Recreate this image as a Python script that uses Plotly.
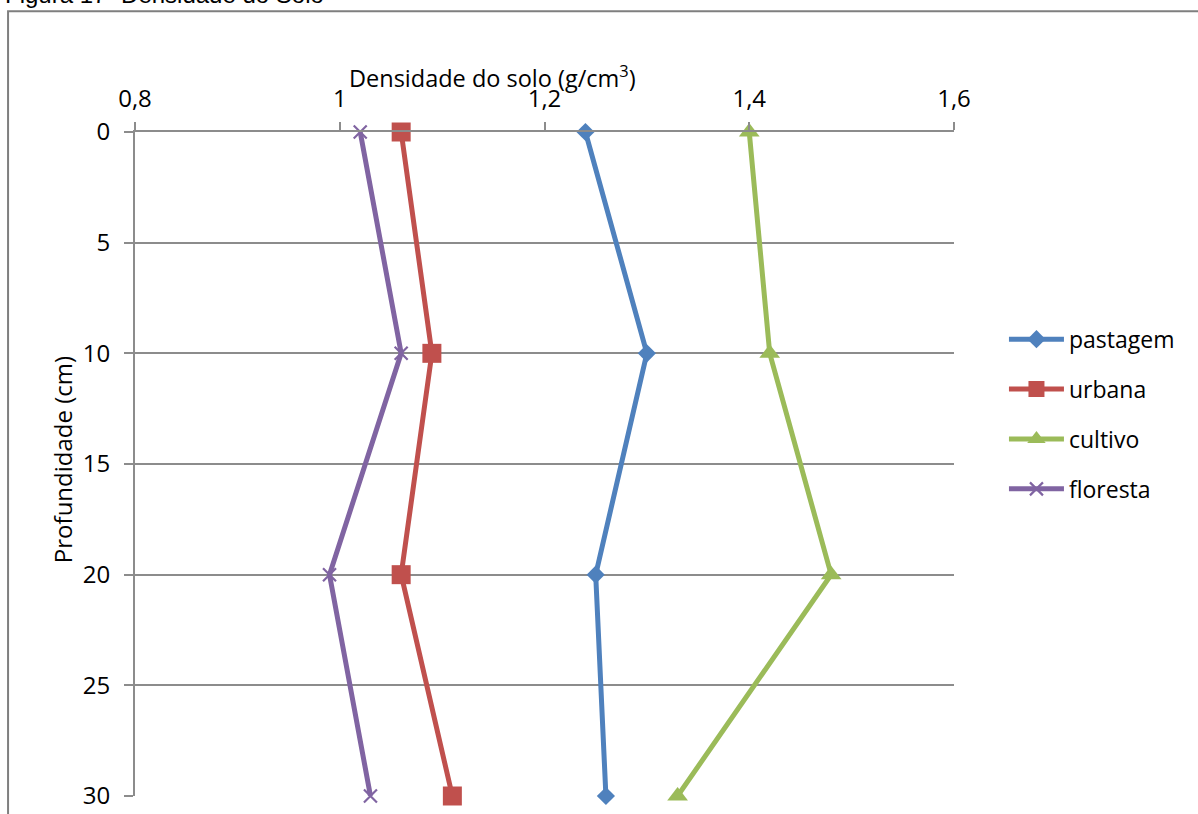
import plotly.graph_objects as go

# Profundidade (cm) e densidade do solo (g/cm³) por uso do solo
profundidade = [0, 10, 20, 30]
pastagem = [1.24, 1.30, 1.25, 1.26]
urbana = [1.06, 1.09, 1.06, 1.11]
cultivo = [1.40, 1.42, 1.48, 1.33]
floresta = [1.02, 1.06, 0.99, 1.03]

x_ticks = [0.8, 1.0, 1.2, 1.4, 1.6]
x_ticklabels = ["0,8", "1", "1,2", "1,4", "1,6"]
y_ticks = [0, 5, 10, 15, 20, 25, 30]

FONT = "Open Sans"
GRID = "#8c8c8c"

series = [
    ("pastagem", pastagem, "#4F81BD", dict(symbol="diamond", size=14)),
    ("urbana", urbana, "#C0504D", dict(symbol="square", size=19)),
    ("cultivo", cultivo, "#9BBB59", dict(symbol="triangle-up", size=18)),
    ("floresta", floresta, "#8064A2",
     dict(symbol="x-thin", size=13, line=dict(width=2.2))),
]

fig = go.Figure()
for i, (name, vals, color, mk) in enumerate(series):
    marker = dict(color=color, **mk)
    if "line" in marker:
        marker["line"]["color"] = color
    fig.add_trace(go.Scatter(
        x=vals, y=profundidade, name=name, mode="lines+markers",
        line=dict(color=color, width=5),
        marker=marker, cliponaxis=False, legendgroup=f"g{i}",
    ))

fig.update_layout(
    width=1198, height=814,
    margin=dict(l=135, r=244, t=132, b=18, autoexpand=False),
    paper_bgcolor="white", plot_bgcolor="white",
    font=dict(family=FONT, size=22, color="black"),
    showlegend=True,
    legend=dict(x=1.061, xanchor="left", y=0.575, yanchor="middle",
                tracegroupgap=17, itemwidth=55,
                font=dict(size=23, family=FONT),
                bgcolor="rgba(0,0,0,0)"),
    xaxis=dict(
        side="top", range=[0.8, 1.6], tickvals=x_ticks, ticktext=x_ticklabels,
        showgrid=False, zeroline=False, showline=True, linecolor=GRID,
        linewidth=2, ticks="outside", ticklen=8, tickwidth=2, tickcolor=GRID,
        tickfont=dict(size=24, family=FONT), ticklabelstandoff=5,
        automargin=False,
    ),
    yaxis=dict(
        range=[30, 0], tickvals=y_ticks, showgrid=True, gridcolor=GRID,
        gridwidth=2, zeroline=False, showline=True, linecolor=GRID,
        linewidth=2, ticks="outside", ticklen=9, tickwidth=2, tickcolor=GRID,
        tickfont=dict(size=24, family=FONT), ticklabelstandoff=9,
        automargin=False,
    ),
)

# Títulos dos eixos
fig.add_annotation(text="Densidade do solo (g/cm<sup>3</sup>)", xref="paper",
                   yref="paper", x=0.436, y=1.084, showarrow=False,
                   xanchor="center", yanchor="middle",
                   font=dict(size=23.5, family=FONT))
fig.add_annotation(text="Profundidade (cm)", xref="paper", yref="paper",
                   x=-0.089, y=0.506, showarrow=False, textangle=-90,
                   xanchor="center", yanchor="middle",
                   font=dict(size=24, family=FONT))

# Legenda da figura no documento
fig.add_annotation(text="Figura 17- Densidade do Solo", xref="paper",
                   yref="paper", x=-0.161, y=1.207, showarrow=False,
                   xanchor="left", yanchor="middle",
                   font=dict(size=24, family="Liberation Sans", color="black"))

# Moldura do gráfico
fig.add_shape(type="rect", xref="paper", yref="paper",
              x0=-0.155, x1=1.32, y0=-0.06, y1=1.182,
              line=dict(color="#7f7f7f", width=2), layer="below")

fig.write_html("out.html")
